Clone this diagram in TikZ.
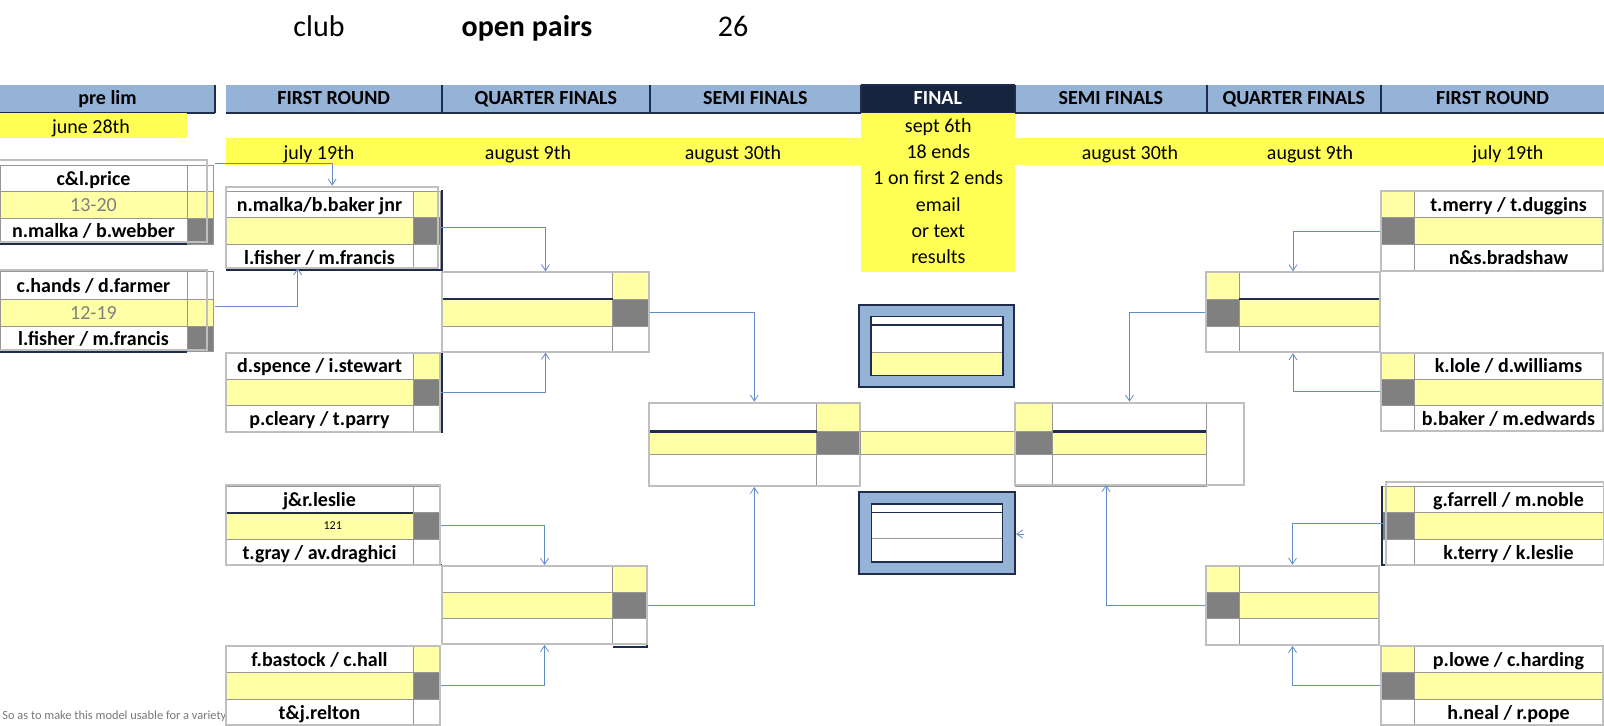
\documentclass[tikz,border=0pt]{standalone}
\usepackage{fontspec}
\setmainfont{Carlito}
\usetikzlibrary{fit,arrows.meta}
\definecolor{hdrblue}{RGB}{149,179,215}
\definecolor{navy}{RGB}{31,45,74}
\definecolor{finalnavy}{RGB}{22,36,62}
\definecolor{ybright}{RGB}{255,255,85}
\definecolor{ylight}{RGB}{255,255,166}
\definecolor{sgrey}{RGB}{128,128,128}
\definecolor{framegrey}{RGB}{191,191,191}
\definecolor{cellline}{RGB}{150,150,150}
\definecolor{connblue}{RGB}{100,140,200}
\definecolor{scoretxt}{RGB}{128,128,128}
\definecolor{notetxt}{RGB}{120,120,120}
\newcounter{tn}
\newcommand\blbl[4][nm]{\stepcounter{tn}\node[#1] (t\arabic{tn}) at (#2,#3) {#4};}
\newcommand\bcell[5]{\filldraw[fill=#5,draw=cellline,line width=.4pt] (#1,#2) rectangle (#3,#4);}
\newcommand\bframe[5]{\node[frame,fit={(#2,#3)(#4,#5)}] (#1) {};}
\newcommand\hdrseg[4]{\fill[#4] (#1,85) rectangle (#2,113);
  \stepcounter{tn}\node[nm] (t\arabic{tn}) at ({(#1+#2)/2},105) {#3};}
% left box: name col left, score col right
\newcommand\leftbx[8]{%
  \bcell{#1}{#4}{#2}{#5}{white}\bcell{#2}{#4}{#3}{#5}{#8}
  \bcell{#1}{#5}{#2}{#6}{ylight}\bcell{#2}{#5}{#3}{#6}{sgrey}
  \bcell{#1}{#6}{#2}{#7}{white}\bcell{#2}{#6}{#3}{#7}{white}}
% right box: score col left, name col right
\newcommand\rightbx[8]{%
  \bcell{#1}{#4}{#2}{#5}{#8}\bcell{#2}{#4}{#3}{#5}{white}
  \bcell{#1}{#5}{#2}{#6}{sgrey}\bcell{#2}{#5}{#3}{#6}{ylight}
  \bcell{#1}{#6}{#2}{#7}{white}\bcell{#2}{#6}{#3}{#7}{white}}
\begin{document}
\begin{tikzpicture}[x=0.5pt,y=-0.5pt,
  nm/.style={anchor=base,inner sep=0pt,font=\fontsize{10}{12}\selectfont\bfseries},
  rg/.style={anchor=base,inner sep=0pt,font=\fontsize{10}{12}\selectfont},
  frame/.style={draw=framegrey,line width=1pt,inner sep=0pt},
  dk/.style={draw=navy,line width=0.9pt},
  conn/.style={draw=connblue,line width=0.4pt,-{Straight Barb[length=3pt,width=4pt]}},
  finbox/.style={fill=hdrblue,draw=navy,line width=1pt,inner sep=0pt}]
\fill[white] (0,0) rectangle (1604,726);
\useasboundingbox (0,0) rectangle (1604,726);

% title
\blbl[anchor=base,inner sep=0pt,font=\fontsize{15}{18}\selectfont]{319}{36.7}{club}
\blbl[anchor=base,inner sep=0pt,font=\fontsize{15}{18}\selectfont\bfseries]{527}{36.7}{open pairs}
\blbl[anchor=base,inner sep=0pt,font=\fontsize{15}{18}\selectfont]{733}{36.7}{26}

% header bar
\hdrseg{0}{215}{pre lim}{hdrblue}
\hdrseg{225.7}{441.7}{FIRST ROUND}{hdrblue}
\hdrseg{441.7}{650}{QUARTER FINALS}{hdrblue}
\hdrseg{650}{860.7}{SEMI FINALS}{hdrblue}
\hdrseg{860.7}{1015}{\color{white}FINAL}{finalnavy}
\hdrseg{1015}{1206.7}{SEMI FINALS}{hdrblue}
\hdrseg{1206.7}{1381}{QUARTER FINALS}{hdrblue}
\hdrseg{1381}{1604}{FIRST ROUND}{hdrblue}
\draw[navy,line width=1.2pt] (0,113)--(215,113) (225.7,113)--(1604,113);
\draw[navy,line width=1pt] (215,85)--(215,113) (441.7,85)--(441.7,113) (650,85)--(650,113)
  (860.7,85)--(860.7,113) (1015,85)--(1015,113) (1206.7,85)--(1206.7,113) (1381,85)--(1381,113);
\draw[navy,line width=1pt] (860.7,85)--(1015,85);

% date bands
\fill[ybright] (0,113.3) rectangle (187,138.3);
\fill[ybright] (225.7,138.3) rectangle (1604,165);
\fill[ybright] (860.7,113) rectangle (1015,271.7);
\blbl[rg]{91}{133.3}{june 28th}
\blbl[rg]{319}{159.3}{july 19th}
\blbl[rg]{528}{159.3}{august 9th}
\blbl[rg]{733}{159.3}{august 30th}
\blbl[rg]{1130}{159.3}{august 30th}
\blbl[rg]{1310}{159.3}{august 9th}
\blbl[rg]{1508}{159.3}{july 19th}
\blbl[rg]{938.3}{132.7}{sept 6th}
\blbl[rg]{938.3}{158.7}{18 ends}
\blbl[rg]{938.3}{185}{1 on first 2 ends}
\blbl[rg]{938.3}{211.3}{email}
\blbl[rg]{938.3}{237.7}{or text}
\blbl[rg]{938.3}{264}{results}

% footnote
\blbl[anchor=base west,inner sep=0pt,font=\fontsize{6.2}{7}\selectfont,text=notetxt]{2}{719}{So as to make this model usable for a variety}

% prelim boxes
\bcell{0}{165}{187}{191.7}{white}\bcell{187}{165}{213}{191.7}{white}
\bcell{0}{191.7}{187}{218.3}{ylight}\bcell{187}{191.7}{213}{218.3}{ylight}
\bcell{0}{218.3}{187}{244}{white}\bcell{187}{218.3}{213}{244}{sgrey}
\blbl{93.5}{185.3}{c\&l.price}
\blbl[rg,text=scoretxt]{93.5}{212}{13-20}
\blbl{93.5}{238}{n.malka / b.webber}
\draw[dk] (0,244)--(187,244);
\bframe{p1}{-2}{160}{207}{242}

\bcell{0}{271.7}{187}{299.3}{white}\bcell{187}{271.7}{213}{299.3}{white}
\bcell{0}{299.3}{187}{326}{ylight}\bcell{187}{299.3}{213}{326}{ylight}
\bcell{0}{326}{187}{351.7}{white}\bcell{187}{326}{213}{351.7}{sgrey}
\blbl{93.5}{292.5}{c.hands / d.farmer}
\blbl[rg,text=scoretxt]{93.5}{319.7}{12-19}
\blbl{93.5}{345.9}{l.fisher / m.francis}
\draw[dk] (0,351.7)--(187,351.7);
\bframe{p2}{-2}{270}{207}{350}

% first round left
\leftbx{226}{413}{440}{191.7}{217.7}{244.3}{270}{ylight}
\blbl{319.5}{211.7}{n.malka/b.baker jnr}
\blbl{319.5}{264.2}{l.fisher / m.francis}
\draw[dk] (441.7,190)--(441.7,270)--(226,270);
\bframe{fr1}{226}{186.7}{438.3}{268.3}

\leftbx{226}{413}{440}{352.7}{379.3}{405.3}{431.7}{ylight}
\blbl{319.5}{373}{d.spence / i.stewart}
\blbl{319.5}{425.5}{p.cleary / t.parry}
\draw[dk] (441.7,352.7)--(441.7,431.7)--(226,431.7);
\bframe{fr2}{226}{352.7}{440}{431.7}

\leftbx{226}{413}{440}{486}{512.7}{539}{565.3}{white}
\blbl{319.5}{506.3}{j\&r.leslie}
\blbl[anchor=base,inner sep=0pt,font=\fontsize{6}{7}\selectfont]{332.7}{529.5}{121}
\blbl{319.5}{559.2}{t.gray / av.draghici}
\draw[dk] (226,512.7)--(413,512.7);
\draw[dk] (226,565.3)--(441.7,565.3);
\bframe{fr3}{226}{485}{440}{565.3}

\leftbx{226}{413}{440}{646}{672.3}{699}{725}{ylight}
\blbl{319.5}{666.2}{f.bastock / c.hall}
\blbl{319.5}{719}{t\&j.relton}
\bframe{fr4}{226}{646}{440}{725}

% quarter finals left
\leftbx{441.7}{612.7}{649.3}{272.3}{299}{326}{351.7}{ylight}
\draw[dk] (441.7,299)--(612.7,299);
\bframe{qf1}{441.7}{272.3}{649.3}{351.7}

\leftbx{442}{612.5}{647}{566}{592}{618.5}{644}{ylight}
\draw[dk] (647,566)--(647,646.7)--(612.5,646.7);
\bframe{qf2}{442}{566}{647}{644}

% semi finals left
\leftbx{648.5}{816.5}{860}{402.7}{431.7}{454}{486}{ylight}
\draw[dk,line width=1.2pt] (648.5,431.7)--(816.5,431.7);
\draw[dk] (860,404)--(860,486);
\bframe{sfl}{648.5}{402.7}{860}{486}

% middle strip
\bcell{860}{431.7}{1015}{454}{ylight}

% semi finals right
\rightbx{1015}{1052.6}{1206.4}{402.7}{431.7}{454}{486}{ylight}
\draw[dk,line width=1.2pt] (1052.6,431.7)--(1206.4,431.7);
\bframe{sfr}{1015}{402.7}{1244}{485}

% final boxes
\node[finbox,fit={(859.2,305)(1014.2,387.3)}] (ft) {};
\bcell{871}{316.7}{1002.8}{325}{white}
\bcell{871}{325}{1002.8}{352.3}{white}
\bcell{871}{352.3}{1002.8}{375.7}{ylight}
\draw[navy,line width=0.8pt] (871,316.7) rectangle (1002.8,375.7) (871,325)--(1002.8,325);

\node[finbox,fit={(859.3,492.3)(1015,574)}] (fb) {};
\bcell{871.6}{503.7}{1002.5}{512.3}{white}
\bcell{871.6}{512.3}{1002.5}{538.7}{white}
\bcell{871.6}{538.7}{1002.5}{562}{white}
\draw[navy,line width=0.8pt] (871.6,503.7) rectangle (1002.5,562) (871.6,512.3)--(1002.5,512.3);

% quarter finals right
\rightbx{1206}{1239}{1380}{272.3}{299}{326}{352.3}{ylight}
\draw[dk] (1239,299)--(1380,299);
\bframe{qfr1}{1206}{272.3}{1380}{352.3}

\rightbx{1206}{1239}{1379}{565.7}{592.3}{618.7}{645}{ylight}
\bframe{qfr2}{1206}{565.7}{1379}{645}

% first round right
\rightbx{1381}{1414.3}{1603}{191.7}{217.7}{244.3}{271}{ylight}
\blbl{1508.5}{211.7}{t.merry / t.duggins}
\blbl{1508.5}{264.7}{n\&s.bradshaw}
\draw[dk] (1381,271)--(1603,271);
\bframe{frr1}{1381}{191}{1603}{271}

\rightbx{1381}{1414.3}{1603}{352.7}{379.3}{405.3}{431}{ylight}
\blbl{1508.5}{373}{k.lole / d.williams}
\blbl{1508.5}{425.2}{b.baker / m.edwards}
\draw[dk] (1380.7,352.7)--(1380.7,431);
\bframe{frr2}{1381}{352.7}{1603}{431}

\rightbx{1381}{1414.3}{1603}{486}{512.3}{539}{565.3}{ylight}
\blbl{1508.5}{506.2}{g.farrell / m.noble}
\blbl{1508.5}{559.2}{k.terry / k.leslie}
\draw[dk] (1382,486)--(1382,565.3)--(1604,565.3);
\bframe{frr3}{1385.7}{481.7}{1604}{565.3}

\rightbx{1381}{1414.3}{1603}{646}{672.3}{699}{725}{ylight}
\blbl{1508.5}{666.2}{p.lowe / c.harding}
\blbl{1508.5}{719}{h.neal / r.pope}
\bframe{frr4}{1381}{646}{1603}{725}

% connectors
\coordinate (p1o) at (215,163.3);
\coordinate (p2o) at (215,306.7);
\coordinate (fr1b) at (297.7,268.3);
\coordinate (sfrb) at (1106,485);
\coordinate (fbin) at (1024,534);
\draw[conn] (p1o) -| (fr1.north);
\draw[conn] (p2o) -| (fr1b);
\draw[conn] (fr1.east) -| (qf1.north);
\draw[conn] (fr2.east) -| (qf1.south);
\draw[conn] (fr3.east) -| (qf2.north);
\draw[conn] (fr4.east) -| (qf2.south);
\draw[conn] (qf1.east) -| (sfl.north);
\draw[conn] (qf2.east) -| (sfl.south);
\draw[conn] (frr1.west) -| (qfr1.north);
\draw[conn] (frr2.west) -| (qfr1.south);
\draw[conn] (frr3.west) -| (qfr2.north);
\draw[conn] (frr4.west) -| (qfr2.south);
\draw[conn] (qfr1.west) -| (sfr.north);
\draw[conn] (qfr2.west) -| (sfrb);
\draw[conn] (fbin) -- (fbin -| fb.east);
\end{tikzpicture}
\end{document}
